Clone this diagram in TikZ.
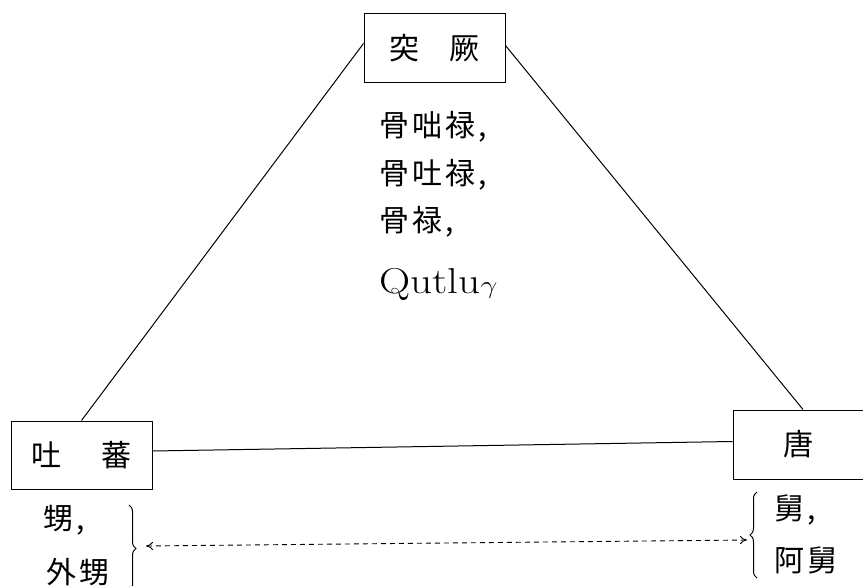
\documentclass[tikz,border=0pt]{standalone}
\usepackage{fontspec}
\newfontfamily\cjk[LetterSpace=10]{Noto Sans CJK JP}
\usetikzlibrary{decorations.pathreplacing,arrows.meta}
\begin{document}
\begin{tikzpicture}[x=1pt,y=-1pt,
  box/.style={draw,line width=1pt,inner sep=0pt,font=\cjk\fontsize{30}{30}\selectfont},
  lbl/.style={anchor=west,inner sep=0pt,font=\cjk\fontsize{30}{30}\selectfont},
  link/.style={line width=1pt},
  bracestyle/.style={decorate,decoration={brace,amplitude=7pt},line width=1pt}]
\useasboundingbox (0,0) rectangle (863,586);
\node[box,minimum width=141pt,minimum height=69pt] (tujue) at (434.5,48.5) {突\hspace{30pt}厥};
\node[box,minimum width=141pt,minimum height=68pt] (tubo) at (81.5,455) {吐\hspace{40pt}蕃};
\node[box,minimum width=130pt,minimum height=69pt] (tang) at (798,444.5) {唐};
\draw[link] ([yshift=5pt]tujue.west) -- (tubo.north);
\draw[link] ([yshift=3pt]tujue.east) -- ([xshift=5pt]tang.north);
\draw[link] ([yshift=4pt]tubo.east) -- ([yshift=3pt]tang.west);
\node[lbl] (n1) at (379,127) {骨咄禄,};
\node[lbl] (n2) at (379,175) {骨吐禄,};
\node[lbl] (n3) at (379,222) {骨禄,};
\node[anchor=base west,inner sep=0pt,font=\fontsize{36}{36}\selectfont] (n4) at (379,293) {\scalebox{1.2}[1]{Qutlu$\gamma$}};
\node[lbl] (s1) at (43,520) {甥,};
\node[lbl] (s2) at (46,572) {外甥};
\node[lbl] (j1) at (774,510) {舅,};
\node[lbl] (j2) at (774,560) {阿舅};
\coordinate (lbt) at (129,505);
\coordinate (lbb) at (129,592);
\coordinate (rbt) at (757,492);
\coordinate (rbb) at (757,578);
\draw[bracestyle] (lbt) -- (lbb);
\draw[bracestyle] (rbb) -- (rbt);
\coordinate (al) at (146,546);
\coordinate (ar) at (747,540);
\draw[line width=0.9pt,dash pattern=on 5pt off 4pt,{To[length=7pt,width=8pt]}-{To[length=7pt,width=8pt]}] (al) -- (ar);
\end{tikzpicture}
\end{document}
